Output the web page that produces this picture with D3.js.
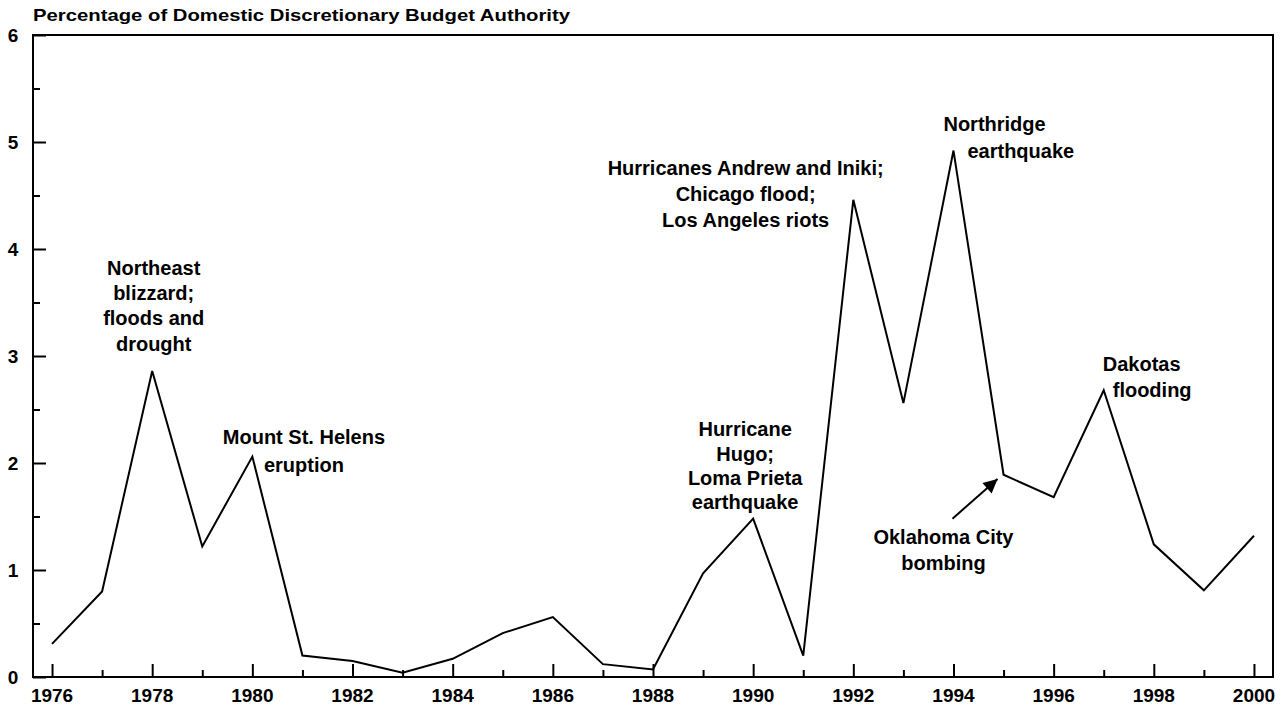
<!DOCTYPE html>
<html>
<head>
<meta charset="utf-8">
<script src="https://cdn.jsdelivr.net/npm/d3@7"></script>
<style>
  body { margin: 0; background: #fff; }
  svg text { font-family: "Liberation Sans", Arial, Helvetica, sans-serif; font-weight: bold; fill: #000; }
</style>
</head>
<body>
<div id="root"></div>
<script>
const years = d3.range(1976, 2001)
const shares = [0.31, 0.80, 2.86, 1.22, 2.06, 0.20, 0.15, 0.04, 0.17, 0.41, 0.56, 0.12, 0.07,
  0.97, 1.48, 0.20, 4.46, 2.56, 4.92, 1.89, 1.68, 2.68, 1.24, 0.81, 1.32]
const yTicks = [0, 1, 2, 3, 4, 5, 6]
const xTickYears = [1976, 1978, 1980, 1982, 1984, 1986, 1988, 1990, 1992, 1994, 1996, 1998, 2000]
const title = 'Percentage of Domestic Discretionary Budget Authority'

// annotations placed in data units (year, value of first baseline)
const notes = [
  { lines: ['Northeast', 'blizzard;', 'floods and', 'drought'], x: 1978.03, y: 3.76, anchor: 'middle', gap: 25.3 },
  { lines: ['Mount St. Helens', 'eruption'], x: 1981.03, y: 2.18, anchor: 'middle', gap: 28 },
  { lines: ['Hurricane', 'Hugo;', 'Loma Prieta', 'earthquake'], x: 1989.84, y: 2.25, anchor: 'middle', gap: 24.3 },
  { lines: ['Hurricanes Andrew and Iniki;', 'Chicago flood;', 'Los Angeles riots'], x: 1989.85, y: 4.69, anchor: 'middle', gap: 26 },
  { lines: ['Northridge', 'earthquake'], x: 1993.8, y: 5.10, anchor: 'start', gap: 27, indent: [0, 24] },
  { lines: ['Dakotas', 'flooding'], x: 1996.98, y: 2.86, anchor: 'start', gap: 26, indent: [0, 10] },
  { lines: ['Oklahoma City', 'bombing'], x: 1993.8, y: 1.24, anchor: 'middle', gap: 25.5 }
]

const W = 1281, H = 708
const m = { left: 33, right: 1273, top: 35, bottom: 677 }

const svg = d3.select('#root').append('svg')
  .attr('width', W)
  .attr('height', H)

const x = d3.scaleLinear().domain([1975.62, 2000.38]).range([m.left, m.right])
const y = d3.scaleLinear().domain([0, 6]).range([m.bottom, m.top])

// frame
svg.append('rect')
  .attr('x', m.left).attr('y', m.top)
  .attr('width', m.right - m.left).attr('height', m.bottom - m.top)
  .attr('fill', 'none').attr('stroke', '#000').attr('stroke-width', 2)

// y axis: inward ticks, minor at halves
svg.append('g')
  .attr('transform', `translate(${m.left},0)`)
  .call(d3.axisRight(y).tickValues(d3.range(0, 6.01, 0.5)).tickSize(0).tickFormat(''))
  .call(g => g.select('.domain').remove())
  .call(g => g.selectAll('.tick line')
    .attr('x2', d => Number.isInteger(d) ? 13 : 7)
    .attr('stroke', '#000').attr('stroke-width', 2))

svg.selectAll('.ylab')
  .data(yTicks)
  .join('text')
  .attr('x', 13)
  .attr('y', d => y(d) + 7)
  .attr('text-anchor', 'middle')
  .style('font-size', '19px')
  .text(d => d)

// x axis: inward ticks, minor on odd years
svg.append('g')
  .attr('transform', `translate(0,${m.bottom})`)
  .call(d3.axisTop(x).tickValues(years).tickSize(0).tickFormat(''))
  .call(g => g.select('.domain').remove())
  .call(g => g.selectAll('.tick line')
    .attr('y2', d => d % 2 === 0 ? -13 : -7)
    .attr('stroke', '#000').attr('stroke-width', 2))

svg.selectAll('.xlab')
  .data(xTickYears)
  .join('text')
  .attr('x', d => x(d))
  .attr('y', 702)
  .attr('text-anchor', 'middle')
  .style('font-size', '19px')
  .text(d => d)

// title
svg.append('text')
  .attr('x', 33).attr('y', 21)
  .attr('textLength', 537)
  .attr('lengthAdjust', 'spacingAndGlyphs')
  .style('font-size', '16.5px')
  .text(title)

// series
svg.append('path')
  .datum(years.map((yr, i) => [yr, shares[i]]))
  .attr('fill', 'none')
  .attr('stroke', '#000')
  .attr('stroke-width', 2)
  .attr('stroke-linejoin', 'miter')
  .attr('d', d3.line().x(d => x(d[0])).y(d => y(d[1])))

// annotations
notes.forEach(n => {
  const t = svg.append('text')
    .attr('text-anchor', n.anchor)
    .style('font-size', '20px')
  n.lines.forEach((ln, i) => {
    t.append('tspan')
      .attr('x', x(n.x) + (n.indent ? n.indent[i] : 0))
      .attr('y', y(n.y) + i * n.gap)
      .text(ln)
  })
})

// arrow to 1995
svg.append('defs').append('marker')
  .attr('id', 'head')
  .attr('viewBox', '0 0 10 10')
  .attr('refX', 10).attr('refY', 5)
  .attr('markerWidth', 18).attr('markerHeight', 14)
  .attr('markerUnits', 'userSpaceOnUse')
  .attr('orient', 'auto')
  .append('path').attr('d', 'M0,0 L10,5 L0,10 z').attr('fill', '#000')

svg.append('line')
  .attr('x1', x(1993.98)).attr('y1', y(1.48))
  .attr('x2', x(1994.88)).attr('y2', y(1.85))
  .attr('stroke', '#000').attr('stroke-width', 2)
  .attr('marker-end', 'url(#head)')
</script>
</body>
</html>
